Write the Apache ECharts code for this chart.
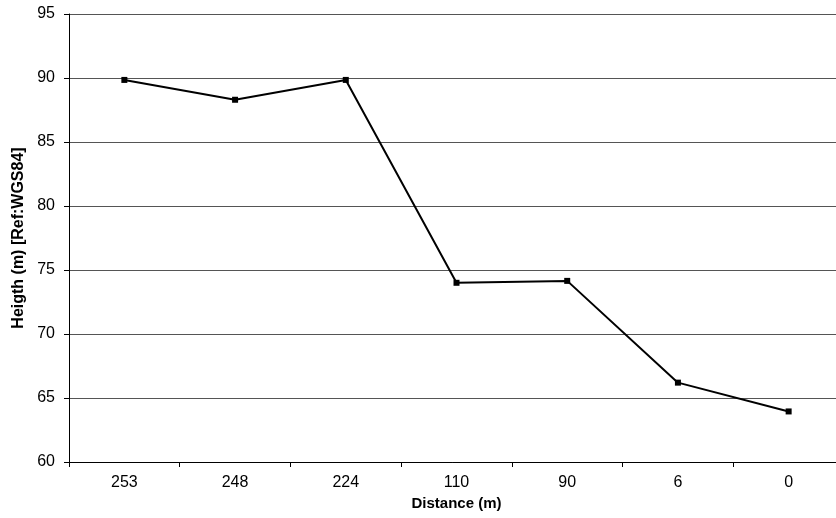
<!DOCTYPE html>
<html><head><meta charset="utf-8">
<script src="https://cdn.jsdelivr.net/npm/echarts@6/dist/echarts.min.js"></script>
<style>html,body{margin:0;padding:0;background:#fff;overflow:hidden}#c{width:836px;height:518px}</style>
</head><body><div id="c"></div>
<script>
var categories = ['253','248','224','110','90','6','0'];
var heights = [89.85, 88.3, 89.85, 74.0, 74.15, 66.2, 63.95];
var yTicks = {min: 60, max: 95, interval: 5};
var xName = 'Distance (m)';
var yName = 'Heigth (m) [Ref:WGS84]';

var chart = echarts.init(document.getElementById('c'), null, {renderer: 'canvas'});
var font = 'Liberation Sans, Arial, sans-serif';
chart.setOption({
  animation: false,
  backgroundColor: '#fff',
  grid: {left: 69, top: 14, width: 775, height: 448, containLabel: false, outerBoundsMode: 'none'},
  xAxis: {
    type: 'category', data: categories, boundaryGap: true,
    name: xName, nameLocation: 'middle', nameGap: 32,
    nameTextStyle: {fontFamily: font, fontSize: 15, fontWeight: 'bold', color: '#000', verticalAlign: 'top'},
    axisLine: {show: true, lineStyle: {color: '#000', width: 1}},
    axisTick: {show: true, length: 5, lineStyle: {color: '#000'}},
    axisLabel: {fontFamily: font, fontSize: 16, color: '#000', margin: 13},
    splitLine: {show: false}
  },
  yAxis: {
    type: 'value', min: yTicks.min, max: yTicks.max, interval: yTicks.interval,
    name: yName, nameLocation: 'middle', nameGap: 42, nameRotate: 90,
    nameTextStyle: {fontFamily: font, fontSize: 16, fontWeight: 'bold', color: '#000'},
    axisLine: {show: true, lineStyle: {color: '#000', width: 1}},
    axisTick: {show: true, length: 5, lineStyle: {color: '#000'}},
    axisLabel: {fontFamily: font, fontSize: 16, color: '#000', margin: 14},
    splitLine: {show: true, lineStyle: {color: '#555', width: 1}}
  },
  series: [{
    type: 'line', data: heights,
    symbol: 'rect', symbolSize: 6,
    itemStyle: {color: '#000'},
    lineStyle: {color: '#000', width: 2},
    z: 3
  }]
});
</script></body></html>
